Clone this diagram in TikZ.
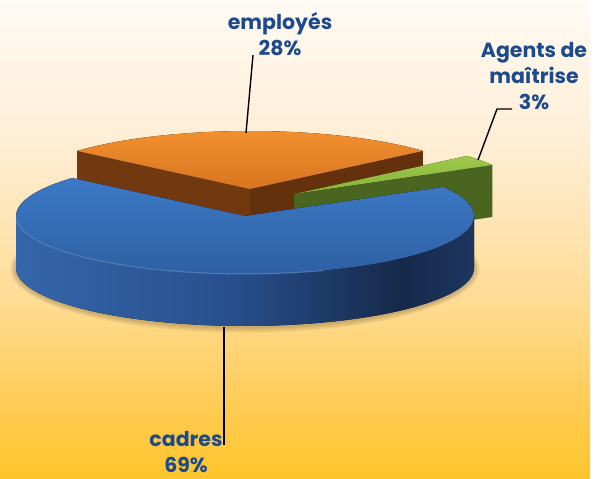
\documentclass[tikz,border=0pt]{standalone}
\usepackage{fontspec}
\setsansfont{Poppins}
\usetikzlibrary{positioning}

\definecolor{lblblue}{RGB}{28,74,140}
\definecolor{bgtop}{RGB}{255,251,245}
\definecolor{bgmidA}{RGB}{255,237,210}
\definecolor{bgmidB}{RGB}{255,220,149}
\definecolor{bgmidC}{RGB}{255,204,85}
\definecolor{bgbot}{RGB}{255,197,43}
\definecolor{bltopA}{RGB}{60,121,197}
\definecolor{bltopB}{RGB}{46,96,163}
\definecolor{blsideA}{RGB}{53,102,170}
\definecolor{blsideB}{RGB}{40,80,142}
\definecolor{blsideC}{RGB}{22,41,74}
\definecolor{blsideD}{RGB}{29,54,96}
\definecolor{blhilite}{RGB}{110,155,216}
\definecolor{ortopA}{RGB}{241,143,47}
\definecolor{ortopB}{RGB}{216,117,31}
\definecolor{orleft}{RGB}{114,56,16}
\definecolor{orright}{RGB}{101,49,12}
\definecolor{grtopA}{RGB}{158,201,75}
\definecolor{grtopB}{RGB}{132,178,58}
\definecolor{grside}{RGB}{74,101,32}

\pgfdeclareverticalshading{bgshade}{100bp}{color(0bp)=(bgbot); color(25bp)=(bgbot);
  color(33bp)=(bgmidC); color(44bp)=(bgmidB); color(59bp)=(bgmidA); color(75bp)=(bgtop); color(100bp)=(bgtop)}
\pgfdeclarehorizontalshading{blueside}{100bp}{color(0bp)=(blsideA); color(25bp)=(blsideA);
  color(48bp)=(blsideB); color(67bp)=(blsideC); color(75bp)=(blsideD); color(100bp)=(blsideD)}

% pie geometry (pixels, y downwards)
\def\cx{245}\def\cy{216}\def\rx{229}\def\ry{58}\def\dep{52}
\def\ox{5}\def\oy{-27}   % employes slice pulled out
\def\gx{49}\def\gy{-22}  % agents slice pulled out

\begin{document}
\begin{tikzpicture}[x=1pt, y=-1pt,
    pct/.style={font=\sffamily\bfseries\fontsize{20.5}{26}\selectfont, text=lblblue,
        align=center, inner sep=0pt},
    leader/.style={draw=black, line width=1.4pt},
    pieedge/.style={samples=60}
]
\useasboundingbox (0,0) rectangle (597,479);
\fill[white] (0,0) rectangle (597,479);
\fill[shading=bgshade] (0,0) rectangle (590,479);

% soft shadow under the cake
\foreach \s in {1,...,6}
    \fill[black, opacity=.035] (\cx,\cy+\dep+1) ellipse [x radius=\rx+\s, y radius=\ry+\s];

% employes 28%
\fill[orleft] (\cx+\ox,\cy+\oy) -- ({\cx+\ox+\rx*cos(139)},{\cy+\oy-\ry*sin(139)})
    -- ({\cx+\ox+\rx*cos(139)},{\cy+\oy+\dep-\ry*sin(139)}) -- (\cx+\ox,\cy+\oy+\dep) -- cycle;
\fill[orright] (\cx+\ox,\cy+\oy) -- ({\cx+\ox+\rx*cos(41)},{\cy+\oy-\ry*sin(41)})
    -- ({\cx+\ox+\rx*cos(41)},{\cy+\oy+\dep-\ry*sin(41)}) -- (\cx+\ox,\cy+\oy+\dep) -- cycle;
\fill[top color=ortopA, bottom color=ortopB] (\cx+\ox,\cy+\oy)
    -- plot[pieedge, domain=41:139] ({\cx+\ox+\rx*cos(\x)},{\cy+\oy-\ry*sin(\x)}) -- cycle;

% agents de maitrise 3%
\fill[grside] (\cx+\gx,\cy+\gy) -- ({\cx+\gx+\rx*cos(30)},{\cy+\gy-\ry*sin(30)})
    -- ({\cx+\gx+\rx*cos(30)},{\cy+\gy+\dep-\ry*sin(30)}) -- (\cx+\gx,\cy+\gy+\dep) -- cycle;
\fill[top color=grtopA, bottom color=grtopB] (\cx+\gx,\cy+\gy)
    -- plot[pieedge, domain=30:41] ({\cx+\gx+\rx*cos(\x)},{\cy+\gy-\ry*sin(\x)}) -- cycle;

% cadres 69%
\fill[shading=blueside] plot[pieedge, domain=180:360] ({\cx+\rx*cos(\x)},{\cy-\ry*sin(\x)})
    -- plot[pieedge, domain=360:180] ({\cx+\rx*cos(\x)},{\cy+\dep-\ry*sin(\x)}) -- cycle;
\fill[top color=bltopA, bottom color=bltopB] (\cx,\cy)
    -- plot[pieedge, domain=139:390] ({\cx+\rx*cos(\x)},{\cy-\ry*sin(\x)}) -- cycle;
\draw[blhilite, line width=1pt, opacity=.6] plot[pieedge, domain=182:290]
    ({\cx+\rx*cos(\x)},{\cy-\ry*sin(\x)});

% labels
\node (lblEmp) [pct] at (280,34) {employés\\28\%};
\node (lblAgt) [pct] at (534,76) {Agents de\\maîtrise\\3\%};
\node (lblCad) [pct] at (186,452) {cadres\\69\%};

\coordinate (empFoot) at (253,55);
\coordinate (empTip) at (246,133);
\coordinate (agtFoot) at (512,109);
\coordinate (agtKnee) at (497,109);
\coordinate (agtTip) at (478,160);
\coordinate (cadFoot) at (224,445);
\coordinate (cadTip) at (224,327);

\draw[leader] (empFoot) -- (empTip);
\draw[leader] (agtFoot) -- (agtKnee) -- (agtTip);
\draw[leader] (cadFoot) -- (cadTip);
\end{tikzpicture}
\end{document}
